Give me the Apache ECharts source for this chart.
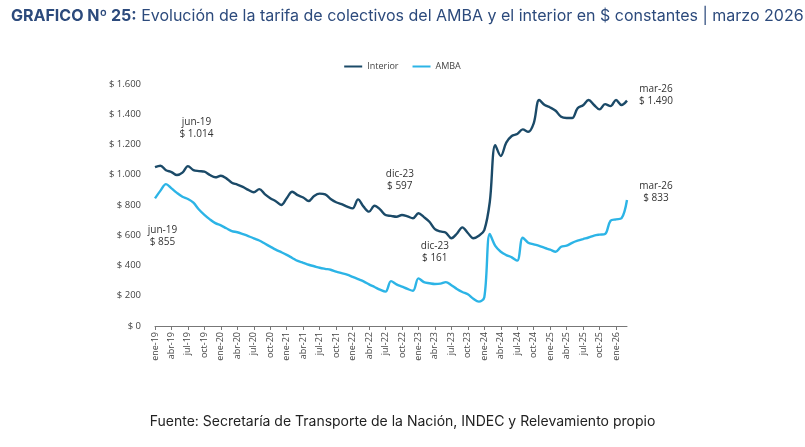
<!DOCTYPE html>
<html><head><meta charset="utf-8">
<script src="https://cdn.jsdelivr.net/npm/echarts@6/dist/echarts.min.js"></script>
<style>html,body{margin:0;padding:0;background:#fff}#c{width:805px;height:447px}</style>
</head><body><div id="c"></div>
<script>
const monthNames = ['ene','feb','mar','abr','may','jun','jul','ago','sep','oct','nov','dic'];
const categories = [];
for (let y = 19; y <= 26; y++) for (let m = 0; m < 12; m++) { if (y === 26 && m > 2) break; categories.push(monthNames[m] + '-' + y); }

const interior = [1050,1060,1030,1018,998,1014,1057,1031,1024,1020,998,983,
  993,976,947,935,920,900,884,905,872,845,825,800,
  845,888,865,850,826,860,875,870,840,818,806,790,
  778,837,789,756,795,771,734,728,722,734,725,712,
  745,720,689,640,625,617,580,610,652,615,580,597,
  634,820,1196,1124,1212,1256,1269,1300,1284,1340,1494,1461,
  1445,1423,1383,1375,1375,1440,1460,1494,1461,1432,1467,1454,
  1494,1461,1490];
const amba = [844,895,938,910,880,855,840,815,770,735,705,680,
  665,646,628,620,608,595,580,565,545,525,505,488,
  470,450,430,418,405,395,385,378,372,360,350,340,
  325,310,295,275,258,240,227,297,275,260,245,233,
  315,290,283,278,280,290,270,245,225,210,180,161,
  190,608,529,491,469,454,432,584,551,540,530,516,
  505,491,524,531,550,564,575,585,598,604,608,696,
  705,712,833];
const yTicks = [0,200,400,600,800,1000,1200,1400,1600];
const notes = [
  {series:'Interior', idx:5, off:[14,-44]},
  {series:'AMBA', idx:5, off:[-20,39]},
  {series:'Interior', idx:59, off:[-79,-56]},
  {series:'AMBA', idx:59, off:[-44,-49]},
  {series:'Interior', idx:86, off:[29,-5]},
  {series:'AMBA', idx:86, off:[29,-8]}
];
const fmt = v => '$ ' + v.toLocaleString('de-DE');
function marks(name, arr) {
  return notes.filter(n => n.series === name).map(n => ({
    coord: [categories[n.idx], arr[n.idx]],
    label: {show:true, position:'inside', offset:n.off, align:'center', verticalAlign:'middle',
      formatter: categories[n.idx] + '\n' + fmt(arr[n.idx]), color:'#333', fontSize:10,
      fontFamily:'Open Sans', lineHeight:12}
  }));
}
const chart = echarts.init(document.getElementById('c'), null, {renderer:'canvas'});
chart.setOption({
  animation:false,
  title:[{
    text:'{b|GRAFICO Nº 25:}{n| Evolución de la tarifa de colectivos del AMBA y el interior en $ constantes | marzo 2026}',
    left:6, top:3,
    textStyle:{rich:{
      b:{fontFamily:'Inter', fontWeight:'bold', fontSize:16, color:'#2c4a7c'},
      n:{fontFamily:'Inter', fontWeight:'normal', fontSize:16, color:'#2c4a7c'}
    }}
  },{
    text:'Fuente: Secretaría de Transporte de la Nación, INDEC y Relevamiento propio',
    left:'center', top:410,
    textStyle:{fontFamily:'Inter', fontWeight:'normal', fontSize:14, color:'#222'}
  }],
  legend:{top:57, left:'center', itemWidth:18, itemHeight:2, itemGap:14,
    icon:'rect', textStyle:{fontSize:9, color:'#444', fontFamily:'Open Sans'},
    data:['Interior','AMBA']},
  grid:{left:155, right:178, top:84, bottom:121, containLabel:false},
  xAxis:{type:'category', data:categories, boundaryGap:false,
    axisLine:{lineStyle:{color:'#777'}},
    axisTick:{interval:2, length:4, lineStyle:{color:'#777'}},
    axisLabel:{interval:2, rotate:90, fontSize:9, color:'#444', fontFamily:'Open Sans', margin:6}},
  yAxis:{type:'value', min:0, max:1600, interval:200,
    axisLine:{show:false}, axisTick:{show:false}, splitLine:{show:false},
    axisLabel:{fontSize:9.5, color:'#444', fontFamily:'Open Sans', margin:14,
      formatter: v => yTicks.includes(v) ? fmt(v) : ''}},
  series:[
    {name:'Interior', type:'line', data:interior, smooth:0.35, showSymbol:false,
      lineStyle:{width:2.4, color:'#1b4a68'}, itemStyle:{color:'#1b4a68'},
      markPoint:{symbol:'circle', symbolSize:0, data:marks('Interior', interior)}},
    {name:'AMBA', type:'line', data:amba, smooth:0.35, showSymbol:false,
      lineStyle:{width:2.4, color:'#2cb4e6'}, itemStyle:{color:'#2cb4e6'},
      markPoint:{symbol:'circle', symbolSize:0, data:marks('AMBA', amba)}}
  ]
});
</script></body></html>
